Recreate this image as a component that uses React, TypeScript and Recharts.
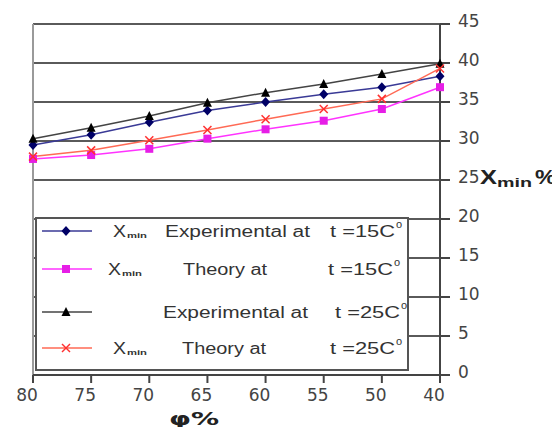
import React from "react";
import {
  CartesianGrid,
  Legend,
  Line,
  LineChart,
  ReferenceLine,
  XAxis,
  YAxis,
} from "recharts";

// relative humidity categories (left to right as in the figure)
const phi = ["80", "75", "70", "65", "60", "55", "50", "40"];

// X_min % values
const exp15 = [29.5, 30.8, 32.4, 33.9, 35.0, 36.0, 36.9, 38.3];
const theory15 = [27.7, 28.2, 29.0, 30.3, 31.5, 32.6, 34.1, 36.9];
const exp25 = [30.3, 31.7, 33.2, 34.9, 36.2, 37.3, 38.6, 39.9];
const theory25 = [28.0, 28.8, 30.1, 31.4, 32.8, 34.1, 35.4, 39.3];

const yTicks = [0, 5, 10, 15, 20, 25, 30, 35, 40, 45];

type Shape = "diamond" | "square" | "triangle" | "cross";

const series: {
  key: string;
  line: string;
  mark: string;
  shape: Shape;
  label: string;
  temp: string;
  xmin: boolean;
}[] = [
  { key: "exp15", line: "#3a3a96", mark: "#000066", shape: "diamond", label: "Experimental at", temp: "t =15C", xmin: true },
  { key: "theory15", line: "#ff33ff", mark: "#e61ee6", shape: "square", label: "Theory at", temp: "t =15C", xmin: true },
  { key: "exp25", line: "#444444", mark: "#000000", shape: "triangle", label: "Experimental at", temp: "t =25C", xmin: false },
  { key: "theory25", line: "#ff6a55", mark: "#ff3030", shape: "cross", label: "Theory at", temp: "t =25C", xmin: true },
];

const data = phi.map((p, i) => ({
  phi: p,
  exp15: exp15[i],
  theory15: theory15[i],
  exp25: exp25[i],
  theory25: theory25[i],
}));

const Marker = ({ shape, x, y, color }: { shape: Shape; x: number; y: number; color: string }) => {
  if (x == null || y == null) return null;
  switch (shape) {
    case "diamond":
      return <polygon points={`${x},${y - 5} ${x + 4.5},${y} ${x},${y + 5} ${x - 4.5},${y}`} fill={color} />;
    case "square":
      return <rect x={x - 4} y={y - 4} width={8} height={8} fill={color} />;
    case "triangle":
      return <polygon points={`${x},${y - 5} ${x + 4.5},${y + 4} ${x - 4.5},${y + 4}`} fill={color} />;
    default:
      return (
        <g stroke={color} strokeWidth={1.5}>
          <line x1={x - 4} y1={y - 4} x2={x + 4} y2={y + 4} />
          <line x1={x - 4} y1={y + 4} x2={x + 4} y2={y - 4} />
        </g>
      );
  }
};

// legend box layout
const rowY = [14, 52, 95, 131];
const labelX = [130, 148, 128, 147];
const tempX = [295, 293, 300, 295];
const xminX = [78, 73, 0, 78];

const LegendBox = () => (
  <svg width={374} height={154} style={{ display: "block" }}>
    <rect x={1} y={1} width={372} height={152} fill="#fff" stroke="#555" strokeWidth={2} />
    {series.map((s, i) => {
      const cy = rowY[i];
      return (
        <g key={s.key} fontFamily="Liberation Sans, Arial, sans-serif" fill="#333">
          <line x1={7} y1={cy} x2={57} y2={cy} stroke={s.line} strokeWidth={1.5} />
          <Marker shape={s.shape} x={31} y={cy} color={s.mark} />
          {s.xmin && (
            <>
              <text x={xminX[i]} y={cy + 6} fontSize={16} textLength={13} lengthAdjust="spacingAndGlyphs">
                X
              </text>
              <text x={xminX[i] + 14} y={cy + 7} fontSize={8} fontWeight="bold" textLength={20} lengthAdjust="spacingAndGlyphs">
                min
              </text>
            </>
          )}
          <text
            x={labelX[i]}
            y={cy + 6}
            fontSize={16}
            textLength={s.label.length > 10 ? 145 : 84}
            lengthAdjust="spacingAndGlyphs"
          >
            {s.label}
          </text>
          <text x={tempX[i]} y={cy + 6} fontSize={16} textLength={65} lengthAdjust="spacingAndGlyphs">
            {s.temp}
          </text>
          <text x={tempX[i] + 66} y={cy - 3} fontSize={11}>
            o
          </text>
        </g>
      );
    })}
  </svg>
);

const YLabel = (props: any) => {
  const vb = props.viewBox || { x: 440, y: 24 };
  const x = vb.x + 40;
  const y = vb.y + 160;
  return (
    <g fontFamily="Liberation Sans, Arial, sans-serif" fontWeight="bold" fill="#222">
      <text x={x} y={y} fontSize={21} textLength={17} lengthAdjust="spacingAndGlyphs">
        X
      </text>
      <text x={x + 17} y={y + 3} fontSize={13} textLength={35} lengthAdjust="spacingAndGlyphs">
        min
      </text>
      <text x={x + 55} y={y} fontSize={21} textLength={21} lengthAdjust="spacingAndGlyphs">
        %
      </text>
    </g>
  );
};

const XLabel = (props: any) => {
  const vb = props.viewBox || { x: 33, y: 375 };
  return (
    <text
      x={vb.x + 161}
      y={vb.y + 50}
      textAnchor="middle"
      fontFamily="DejaVu Sans, sans-serif"
      fontWeight="bold"
      fontSize={18}
      fill="#222"
      textLength={50}
      lengthAdjust="spacingAndGlyphs"
    >
      φ%
    </text>
  );
};

const tickStyle = { fill: "#444", fontSize: 17, fontFamily: "DejaVu Sans, sans-serif" };

const App = () => {
  return (
    <div style={{ margin: -8, width: 560, height: 435, background: "#fff" }}>
      <LineChart width={560} height={435} data={data} margin={{ top: 24, right: 60, bottom: 30, left: 33 }}>
        <CartesianGrid vertical={false} stroke="#5a5a5a" strokeWidth={2} />
        <ReferenceLine x="80" stroke="#9a9a9a" strokeWidth={2} />
        <XAxis
          dataKey="phi"
          interval={0}
          height={30}
          tickSize={8}
          tickMargin={6}
          axisLine={{ stroke: "#444", strokeWidth: 2 }}
          tickLine={{ stroke: "#444", strokeWidth: 2 }}
          tick={{ ...tickStyle, dx: -6 }}
          label={{ content: XLabel }}
        />
        <YAxis
          orientation="right"
          domain={[0, 45]}
          ticks={yTicks}
          interval={0}
          width={60}
          tickSize={10}
          tickMargin={8}
          axisLine={{ stroke: "#444", strokeWidth: 2 }}
          tickLine={{ stroke: "#444", strokeWidth: 2 }}
          tick={{ ...tickStyle, dy: -3 }}
          label={{ content: YLabel }}
        />
        {series.map((s) => (
          <Line
            key={s.key}
            dataKey={s.key}
            stroke={s.line}
            strokeWidth={1.5}
            isAnimationActive={false}
            dot={(p: any) => <Marker key={`${s.key}-${p.index}`} shape={s.shape} x={p.cx} y={p.cy} color={s.mark} />}
            activeDot={false}
          />
        ))}
        <Legend
          layout="horizontal"
          verticalAlign="middle"
          align="center"
          wrapperStyle={{ left: 35, top: 217, width: 374, height: 154 }}
          content={() => <LegendBox />}
        />
      </LineChart>
    </div>
  );
};

export default App;
